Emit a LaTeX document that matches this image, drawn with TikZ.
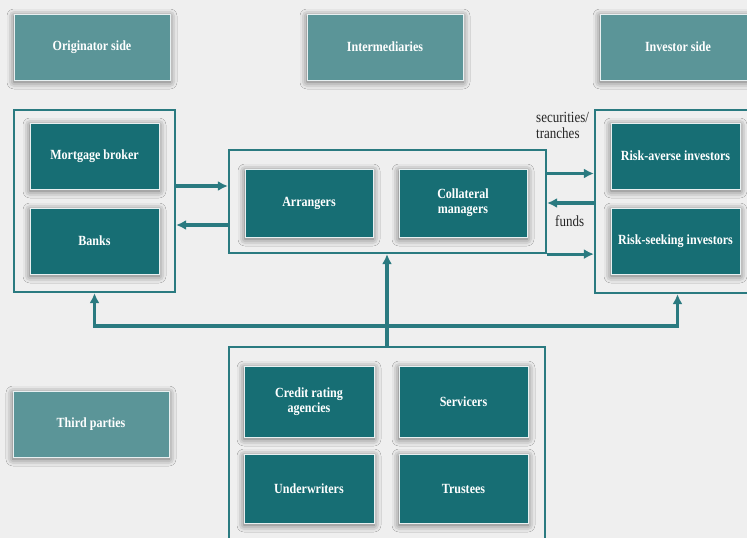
\documentclass[tikz,border=0pt]{standalone}
\usepackage{fontspec}
\setmainfont{Liberation Serif}
\newfontfamily\boxfont[FakeStretch=0.86]{Liberation Serif}
\newfontfamily\lblfont[FakeStretch=0.84]{Liberation Serif}
\usetikzlibrary{arrows.meta,shadows.blur}
\definecolor{bg}{HTML}{EFEFEF}
\definecolor{dark}{HTML}{176E74}
\definecolor{light}{HTML}{5B9598}
\definecolor{frm}{HTML}{2A7A80}
\tikzset{
  box/.style={draw=white!90!dark, line width=1pt, fill=dark, text=white,
    font=\boxfont\bfseries\fontsize{14}{15}\selectfont, align=center,
    inner sep=0pt, minimum width=129pt, minimum height=66pt,
    blur shadow={shadow xshift=0pt, shadow yshift=-2pt, shadow blur radius=7pt, shadow opacity=60}},
  hdr/.style={box, fill=light, minimum width=156pt},
  grp/.style={draw=frm, line width=2.2pt, inner sep=0pt},
  arr/.style={draw=frm, line width=3.2pt, -{Latex[length=10pt,width=10pt]}},
  lbl/.style={font=\lblfont\fontsize{15.5}{16}\selectfont, text=black!85, align=left, inner sep=0pt}
}
\begin{document}
\begin{tikzpicture}[x=1pt,y=-1pt]
\useasboundingbox (0,0) rectangle (747,538);
\fill[bg] (0,0) rectangle (747,538);
% frames
\node[grp, minimum width=161pt, minimum height=182pt] (origF) at (94.5,201) {};
\node[grp, minimum width=317pt, minimum height=103pt] (interF) at (387.5,201.5) {};
\node[grp, minimum width=165pt, minimum height=183pt] (invF) at (677.5,201.5) {};
\node[grp, minimum width=316pt, minimum height=198pt] (thirdF) at (387,446) {};
% headers
\node[hdr] (hOrig) at (92,47) {Originator side};
\node[hdr] (hInter) at (385,47) {Intermediaries};
\node[hdr] (hInv) at (678,47) {Investor side};
\node[hdr] (hThird) at (91,424) {Third parties};
% inner boxes
\node[box] (mort) at (94.5,156) {Mortgage broker};
\node[box] (banks) at (94.5,241) {Banks};
\node[box, minimum width=128pt, minimum height=68pt] (arrg) at (309,203) {Arrangers};
\node[box, minimum width=128pt, minimum height=68pt] (coll) at (463,203) {Collateral\\managers};
\node[box] (ra) at (675.5,156) {Risk-averse investors};
\node[box] (rs) at (675.5,241) {Risk-seeking investors};
\node[box, minimum width=130pt, minimum height=71pt] (cra) at (309,401.5) {Credit rating\\agencies};
\node[box, minimum height=71pt] (serv) at (463.5,401.5) {Servicers};
\node[box, minimum width=130pt, minimum height=69pt] (under) at (309,488.5) {Underwriters};
\node[box, minimum height=69pt] (trust) at (463.5,488.5) {Trustees};
% level coordinates
\coordinate (y173) at (0,173.5);
\coordinate (y186) at (0,186);
\coordinate (y203) at (0,203);
\coordinate (y225) at (0,225);
\coordinate (y326) at (0,326);
% arrows
\draw[arr] (origF.east |- y186) -- (interF.west |- y186);
\draw[arr] (interF.west |- y225) -- (origF.east |- y225);
\draw[arr] (interF.east |- y173) -- (invF.west |- y173);
\draw[arr] (invF.west |- y203) -- (interF.east |- y203);
\draw[arr] (interF.south east) -- (invF.west |- interF.south east);
\draw[arr] (thirdF.north) -- (thirdF.north |- interF.south);
\draw[arr] (thirdF.north |- y326) -| (origF.south);
\draw[arr] (thirdF.north |- y326) -| (invF.south);
% labels
\node[lbl, anchor=base west] (secl) at (536,138) {securities/\\tranches};
\node[lbl, anchor=base west] (fundl) at (555,226) {funds};
\end{tikzpicture}
\end{document}
